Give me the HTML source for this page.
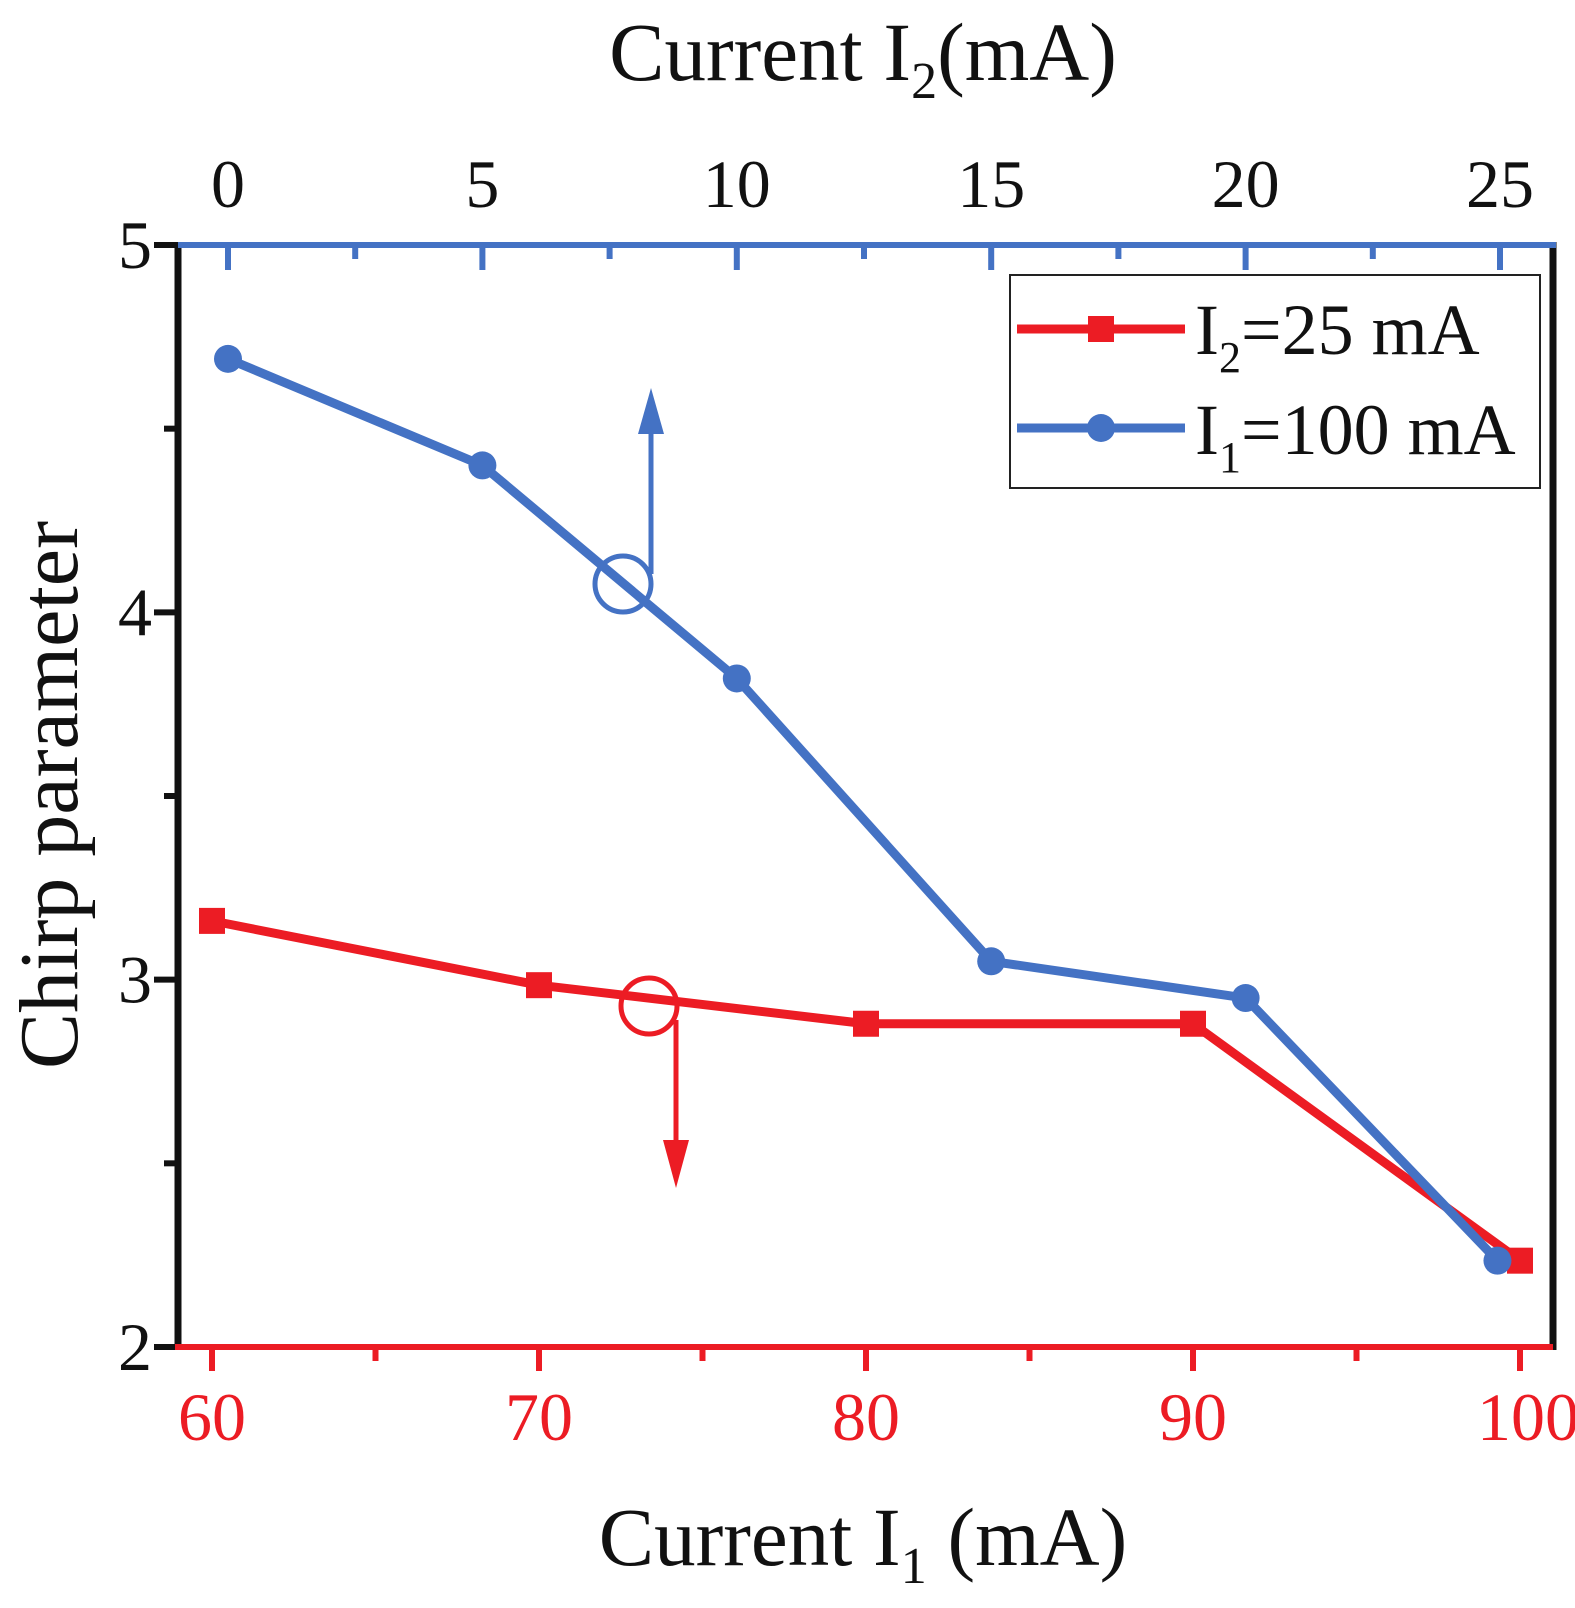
<!DOCTYPE html>
<html><head><meta charset="utf-8"><style>
html,body{margin:0;padding:0;background:#fff;}
svg{display:block;font-family:"Liberation Serif",serif;}
</style></head><body>
<svg id="chart" width="1575" height="1608" viewBox="0 0 1575 1608" xmlns="http://www.w3.org/2000/svg">
<g id="axes"></g><g id="series"></g><g id="annot"></g>
</svg>
<script>
const redX=[60,70,80,90,100];
const redY=[3.16,2.985,2.88,2.88,2.235];
const blueX=[0,5,10,15,20,24.95];
const blueY=[4.69,4.40,3.82,3.05,2.95,2.235];
const yTicks=[2,3,4,5];
const botTicks=[60,70,80,90,100];
const topTicks=[0,5,10,15,20,25];

const L=178,R=1553,T=245,B=1347;
const yS=v=>B-(v-2)/3*(B-T);
const xB=v=>212+(v-60)/40*(1520-212);
const xT=v=>228+v/25*(1500-228);
const NS='http://www.w3.org/2000/svg';
function mk(tag,attrs,parent,text){const e=document.createElementNS(NS,tag);for(const k in attrs)e.setAttribute(k,attrs[k]);if(text!==undefined)e.textContent=text;parent.appendChild(e);return e;}
const ax=document.getElementById('axes'),se=document.getElementById('series'),an=document.getElementById('annot');
const RED='#ec1c24',BLUE='#4472c4';
for(let v=2;v<=5.001;v+=0.5){const maj=Math.abs(v-Math.round(v))<1e-6;let t=mk('line',{x1:L-(maj?24:14),x2:L,y1:yS(v),y2:yS(v),stroke:'#111','stroke-width':6},ax);}
yTicks.forEach(v=>{let t=mk('text',{x:135,y:yS(v)+23,'font-size':68,'text-anchor':'middle',fill:'#111'},ax,String(v));});
for(let v=60;v<=100;v+=5){const maj=v%10===0;let t=mk('line',{x1:xB(v),x2:xB(v),y1:B,y2:B+(maj?24:14),stroke:RED,'stroke-width':6},ax);}
botTicks.forEach(v=>{let t=mk('text',{x:xB(v)+(v===100?8:0),y:1440,'font-size':68,'text-anchor':'middle',fill:RED},ax,String(v));});
for(let v=0;v<=25;v+=2.5){const maj=v%5===0;let t=mk('line',{x1:xT(v),x2:xT(v),y1:T,y2:T+(maj?25:14),stroke:BLUE,'stroke-width':6},ax);}
topTicks.forEach(v=>{let t=mk('text',{x:xT(v),y:207,'font-size':68,'text-anchor':'middle',fill:'#111'},ax,String(v));});
let a;
a=mk('line',{x1:L,x2:L,y1:T-3,y2:B+3,stroke:'#111','stroke-width':7},ax);
a=mk('line',{x1:R,x2:R,y1:T-3,y2:B+3,stroke:'#111','stroke-width':7},ax);
a=mk('line',{x1:L,x2:R+3,y1:T,y2:T,stroke:BLUE,'stroke-width':6},ax);
a=mk('line',{x1:L-3,x2:R,y1:B,y2:B,stroke:RED,'stroke-width':6},ax);
a=mk('text',{x:863,y:80,'font-size':83,'text-anchor':'middle',fill:'#111'},ax);
a.innerHTML='Current I<tspan font-size="52" dy="18">2</tspan><tspan dy="-18">(mA)</tspan>';
a=mk('text',{x:863,y:1565,'font-size':83,'text-anchor':'middle',fill:'#111'},ax);
a.innerHTML='Current I<tspan font-size="52" dy="18">1</tspan><tspan dy="-18"> (mA)</tspan>';
a=mk('text',{x:0,y:0,'font-size':84,'text-anchor':'middle',fill:'#111',transform:'translate(77,795) rotate(-90)'},ax,'Chirp parameter');
let p=mk('polyline',{points:redX.map((v,i)=>xB(v)+','+yS(redY[i])).join(' '),fill:'none',stroke:RED,'stroke-width':9,'stroke-linejoin':'round'},se);
redX.forEach((v,i)=>{let m=mk('rect',{x:xB(v)-13,y:yS(redY[i])-13,width:26,height:26,fill:RED},se);});
p=mk('polyline',{points:blueX.map((v,i)=>xT(v)+','+yS(blueY[i])).join(' '),fill:'none',stroke:BLUE,'stroke-width':9,'stroke-linejoin':'round'},se);
blueX.forEach((v,i)=>{let m=mk('circle',{cx:xT(v),cy:yS(blueY[i]),r:14,fill:BLUE},se);});
a=mk('circle',{cx:623,cy:584,r:28,fill:'none',stroke:BLUE,'stroke-width':5},an);
a=mk('line',{x1:651,y1:574,x2:651,y2:420,stroke:BLUE,'stroke-width':5},an);
a=mk('polygon',{points:'651,388 638,434 664,434',fill:BLUE},an);
a=mk('circle',{cx:649,cy:1006,r:28,fill:'none',stroke:RED,'stroke-width':5},an);
a=mk('line',{x1:676,y1:1020,x2:676,y2:1150,stroke:RED,'stroke-width':5},an);
a=mk('polygon',{points:'676,1188 663,1140 689,1140',fill:RED},an);
const lg=mk('g',{},an);
mk('rect',{x:1010,y:275,width:530,height:213,fill:'#fff',stroke:'#222','stroke-width':2},lg);
a=mk('line',{x1:1017,x2:1185,y1:329,y2:329,stroke:RED,'stroke-width':9},lg);
a=mk('rect',{x:1088,y:316,width:26,height:26,fill:RED},lg);
a=mk('text',{x:1195,y:354,'font-size':72,fill:'#111'},lg);
a.innerHTML='I<tspan font-size="44" dy="18">2</tspan><tspan dy="-18">=25 mA</tspan>';
a=mk('line',{x1:1017,x2:1185,y1:428,y2:428,stroke:BLUE,'stroke-width':9},lg);
a=mk('circle',{cx:1101,cy:428,r:14,fill:BLUE},lg);
a=mk('text',{x:1195,y:454,'font-size':72,fill:'#111'},lg);
a.innerHTML='I<tspan font-size="44" dy="18">1</tspan><tspan dy="-18">=100 mA</tspan>';
</script>
</body></html>
